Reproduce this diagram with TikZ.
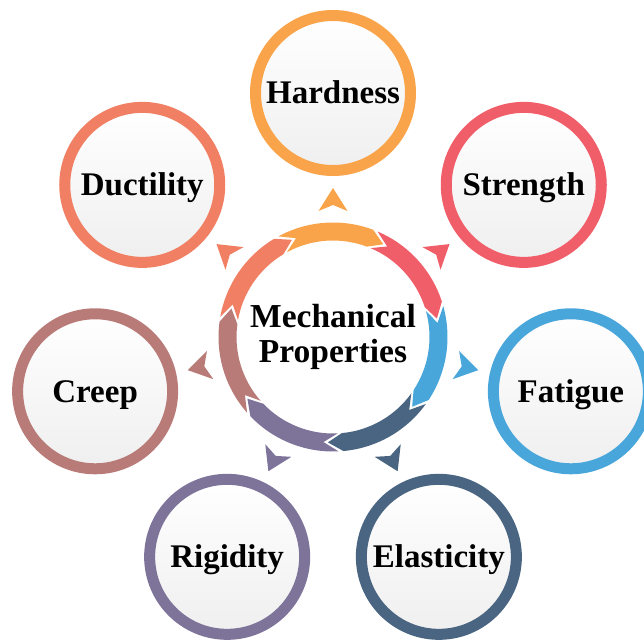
\documentclass[tikz,border=0pt]{standalone}
\usepackage{fontspec}
\setmainfont{Liberation Serif}
\definecolor{cHard}{HTML}{F9A44A}
\definecolor{cStr}{HTML}{F05E6A}
\definecolor{cFat}{HTML}{48A6DA}
\definecolor{cEla}{HTML}{4A6581}
\definecolor{cRig}{HTML}{7E7399}
\definecolor{cCre}{HTML}{B87B78}
\definecolor{cDuc}{HTML}{F07F63}
\definecolor{cFill}{HTML}{EFEFEF}
\begin{document}
\begin{tikzpicture}[x=1pt,y=1pt,
  prop/.style={circle, minimum size=155pt, inner sep=0pt, line width=11pt,
    draw=#1, top color=white, bottom color=cFill,
    font=\fontsize{33}{36}\selectfont\bfseries,
    text height=22pt, text depth=0pt},
  hub/.style={align=center, inner sep=0pt,
    font=\fontsize{33.5}{35}\selectfont\bfseries}]
\useasboundingbox (0,0) rectangle (644,641);
\coordinate (C) at (333,304);

% outer property circles, one every 360/7 degrees clockwise from the top
\node[prop=cHard] (hard) at ([shift={(90:244)}]C) {Hardness};
\node[prop=cStr]  (stre) at ([shift={(38.571:244)}]C) {Strength};
\node[prop=cFat]  (fati) at ([shift={(-12.857:244)}]C) {Fatigue};
\node[prop=cEla]  (elas) at ([shift={(-64.286:244)}]C) {Elasticity};
\node[prop=cRig]  (rigi) at ([shift={(-115.714:244)}]C) {Rigidity};
\node[prop=cCre]  (cree) at ([shift={(-167.143:244)}]C) {Creep};
\node[prop=cDuc]  (duct) at ([shift={(141.429:244)}]C) {Ductility};

% chevron ring around the hub plus an arrowhead toward each circle
\def\Ro{114.5}\def\Ri{96.5}\def\Rm{105.5}
\def\dl{8}\def\gp{2.4}
\begin{scope}[shift={(C)}]
\foreach \col [count=\k from 0] in {cHard,cStr,cFat,cEla,cRig,cCre,cDuc}{
  \pgfmathsetmacro\cen{90-\k*360/7}
  \pgfmathsetmacro\bA{\cen+180/7}
  \pgfmathsetmacro\bB{\cen-180/7}
  \pgfmathsetmacro\tC{\bA+\dl/2-\gp/2}
  \pgfmathsetmacro\tN{\bA-\dl/2-\gp/2}
  \pgfmathsetmacro\hC{\bB+\dl/2+\gp/2}
  \pgfmathsetmacro\hT{\bB-\dl/2+\gp/2}
  \fill[\col] (\tC:\Ro) arc[start angle=\tC, end angle=\hC, radius=\Ro]
    -- (\hT:\Rm) -- (\hC:\Ri) arc[start angle=\hC, end angle=\tC, radius=\Ri]
    -- (\tN:\Rm) -- cycle;
  \fill[\col, rotate=\cen] (149,0) -- (126,14.5) -- (132,0) -- (126,-14.5) -- cycle;
}
\end{scope}

\node[hub] (mp) at (C) {Mechanical\\Properties};
\end{tikzpicture}
\end{document}
